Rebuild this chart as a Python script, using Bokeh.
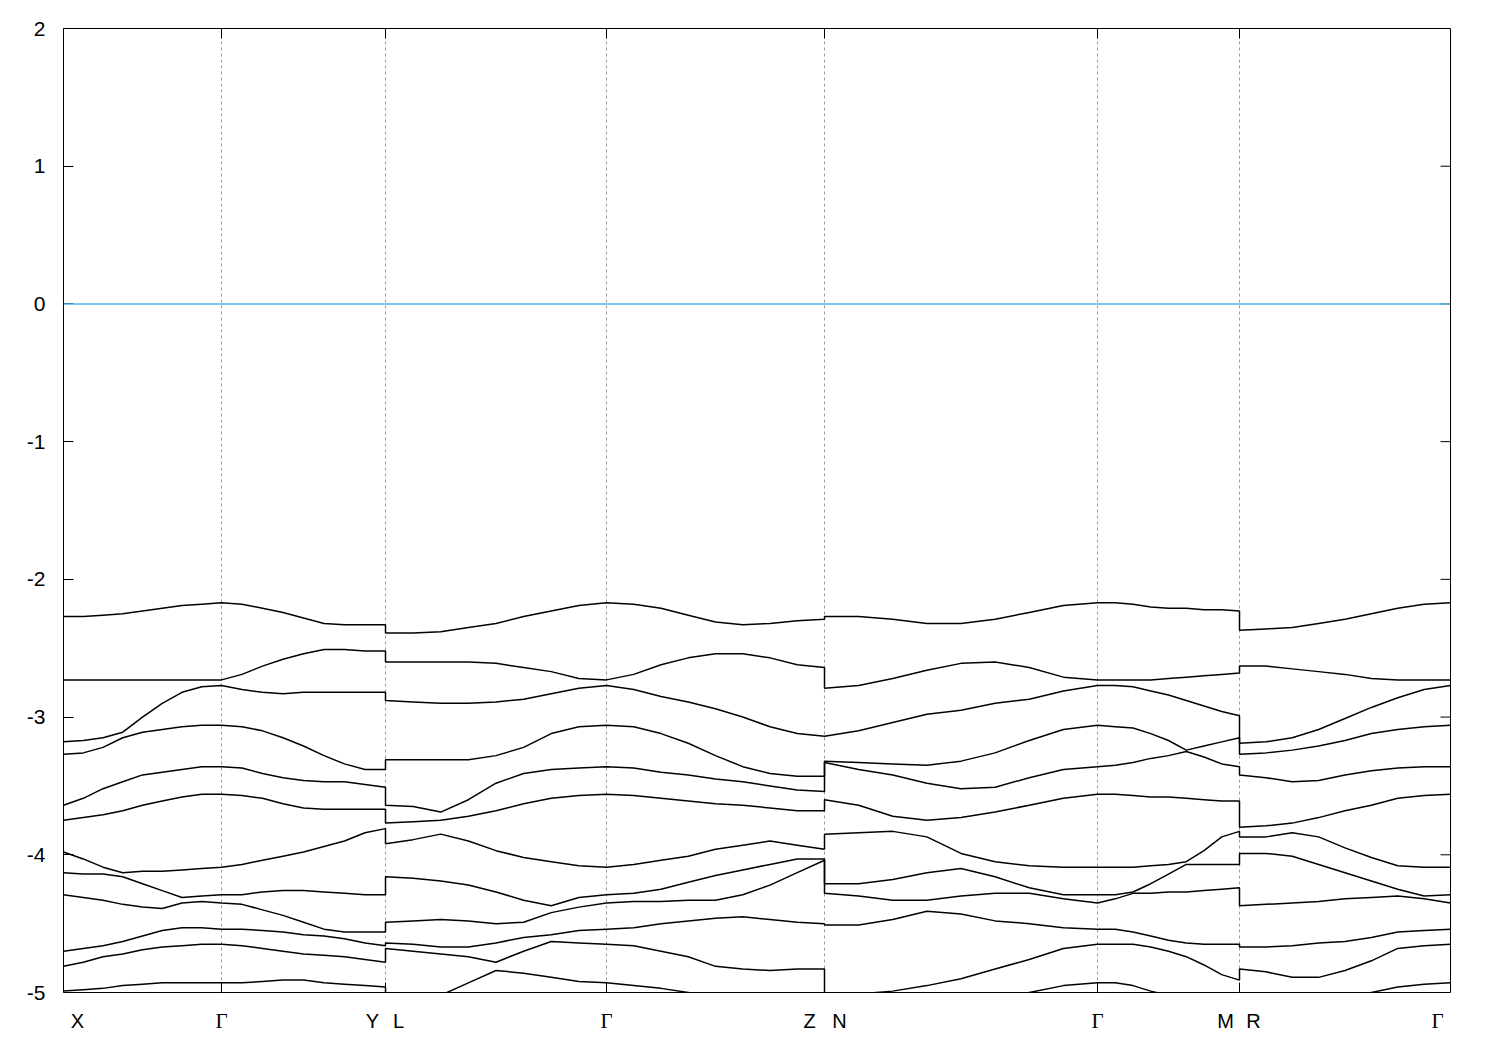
import numpy as np
from bokeh.plotting import figure
from bokeh.models import FixedTicker, Span, Range1d, LinearAxis
from bokeh.embed import file_html
from bokeh.resources import INLINE

# ---- k-path: positions of the high-symmetry points (path distance, arbitrary units)
kpath_pos = [0, 158, 322, 543, 761, 1034, 1176, 1387]
# tick labels, the k-point they belong to, and their small horizontal nudge
tick_text = ["X", "Γ", "Y", "L", "Γ", "Z", "N", "Γ", "M", "R", "Γ"]
tick_at = [0, 1, 2, 2, 3, 4, 4, 5, 6, 6, 7]
tick_nudge = [14, 0, -13, 13, 0, -15, 15, 0, -14, 14, -13]

y_ticks = [-5, -4, -3, -2, -1, 0, 1, 2]
fermi_level = 0.0

# ---- band energies (eV), 12 bands, 9 samples per segment
seg_X_G = [
    [-2.27, -2.27, -2.26, -2.25, -2.23, -2.21, -2.19, -2.18, -2.17],
    [-2.73, -2.73, -2.73, -2.73, -2.73, -2.73, -2.73, -2.73, -2.73],
    [-3.18, -3.17, -3.15, -3.11, -3.00, -2.90, -2.82, -2.78, -2.77],
    [-3.27, -3.26, -3.22, -3.15, -3.11, -3.09, -3.07, -3.06, -3.06],
    [-3.64, -3.59, -3.52, -3.47, -3.42, -3.40, -3.38, -3.36, -3.36],
    [-3.75, -3.73, -3.71, -3.68, -3.64, -3.61, -3.58, -3.56, -3.56],
    [-3.98, -4.03, -4.09, -4.13, -4.12, -4.12, -4.11, -4.10, -4.09],
    [-4.13, -4.14, -4.14, -4.16, -4.21, -4.26, -4.31, -4.30, -4.29],
    [-4.29, -4.31, -4.33, -4.36, -4.38, -4.39, -4.35, -4.34, -4.35],
    [-4.70, -4.68, -4.66, -4.63, -4.59, -4.55, -4.53, -4.53, -4.54],
    [-4.81, -4.78, -4.74, -4.72, -4.69, -4.67, -4.66, -4.65, -4.65],
    [-4.99, -4.98, -4.97, -4.95, -4.94, -4.93, -4.93, -4.93, -4.93],
]
seg_G_Y = [
    [-2.17, -2.18, -2.21, -2.24, -2.28, -2.32, -2.33, -2.33, -2.33],
    [-2.73, -2.69, -2.63, -2.58, -2.54, -2.51, -2.51, -2.52, -2.52],
    [-2.77, -2.80, -2.82, -2.83, -2.82, -2.82, -2.82, -2.82, -2.82],
    [-3.06, -3.07, -3.10, -3.15, -3.21, -3.28, -3.34, -3.38, -3.38],
    [-3.36, -3.37, -3.41, -3.44, -3.46, -3.47, -3.47, -3.49, -3.51],
    [-3.56, -3.57, -3.59, -3.63, -3.66, -3.67, -3.67, -3.67, -3.67],
    [-4.09, -4.07, -4.04, -4.01, -3.98, -3.94, -3.90, -3.84, -3.81],
    [-4.29, -4.29, -4.27, -4.26, -4.26, -4.27, -4.28, -4.29, -4.29],
    [-4.35, -4.36, -4.40, -4.44, -4.49, -4.54, -4.56, -4.56, -4.56],
    [-4.54, -4.54, -4.55, -4.56, -4.58, -4.59, -4.61, -4.64, -4.66],
    [-4.65, -4.66, -4.68, -4.70, -4.72, -4.73, -4.74, -4.76, -4.78],
    [-4.93, -4.93, -4.92, -4.91, -4.91, -4.93, -4.94, -4.95, -4.96],
]
seg_L_G = [
    [-2.39, -2.39, -2.38, -2.35, -2.32, -2.27, -2.23, -2.19, -2.17],
    [-2.60, -2.60, -2.60, -2.60, -2.61, -2.64, -2.67, -2.72, -2.73],
    [-2.88, -2.89, -2.90, -2.90, -2.89, -2.87, -2.83, -2.79, -2.77],
    [-3.31, -3.31, -3.31, -3.31, -3.28, -3.22, -3.12, -3.07, -3.06],
    [-3.64, -3.65, -3.69, -3.60, -3.48, -3.41, -3.38, -3.37, -3.36],
    [-3.77, -3.76, -3.75, -3.72, -3.68, -3.63, -3.59, -3.57, -3.56],
    [-3.92, -3.89, -3.85, -3.90, -3.97, -4.02, -4.05, -4.08, -4.09],
    [-4.16, -4.17, -4.19, -4.22, -4.27, -4.33, -4.37, -4.31, -4.29],
    [-4.49, -4.48, -4.47, -4.48, -4.50, -4.49, -4.42, -4.38, -4.35],
    [-4.64, -4.65, -4.67, -4.67, -4.64, -4.60, -4.58, -4.55, -4.54],
    [-4.68, -4.70, -4.72, -4.74, -4.78, -4.70, -4.63, -4.64, -4.65],
    [-5.05, -5.08, -5.02, -4.93, -4.84, -4.86, -4.89, -4.92, -4.93],
]
seg_G_Z = [
    [-2.17, -2.18, -2.21, -2.26, -2.31, -2.33, -2.32, -2.30, -2.29],
    [-2.73, -2.69, -2.62, -2.57, -2.54, -2.54, -2.57, -2.62, -2.64],
    [-2.77, -2.80, -2.85, -2.89, -2.94, -3.00, -3.07, -3.12, -3.14],
    [-3.06, -3.07, -3.12, -3.19, -3.28, -3.36, -3.41, -3.43, -3.43],
    [-3.36, -3.37, -3.40, -3.42, -3.45, -3.47, -3.50, -3.53, -3.54],
    [-3.56, -3.57, -3.59, -3.61, -3.63, -3.64, -3.66, -3.68, -3.68],
    [-4.09, -4.07, -4.04, -4.01, -3.96, -3.93, -3.90, -3.93, -3.96],
    [-4.29, -4.28, -4.25, -4.20, -4.15, -4.11, -4.07, -4.03, -4.03],
    [-4.35, -4.34, -4.34, -4.33, -4.33, -4.29, -4.22, -4.13, -4.04],
    [-4.54, -4.53, -4.50, -4.48, -4.46, -4.45, -4.47, -4.49, -4.50],
    [-4.65, -4.66, -4.70, -4.74, -4.81, -4.83, -4.84, -4.83, -4.83],
    [-4.93, -4.95, -4.97, -5.00, -5.05, -5.08, -5.10, -5.10, -5.10],
]
seg_N_G = [
    [-2.27, -2.27, -2.29, -2.32, -2.32, -2.29, -2.24, -2.19, -2.17],
    [-2.79, -2.77, -2.72, -2.66, -2.61, -2.60, -2.64, -2.71, -2.73],
    [-3.14, -3.10, -3.04, -2.98, -2.95, -2.90, -2.87, -2.81, -2.77],
    [-3.32, -3.33, -3.34, -3.35, -3.32, -3.26, -3.17, -3.09, -3.06],
    [-3.33, -3.38, -3.42, -3.48, -3.52, -3.51, -3.44, -3.38, -3.36],
    [-3.60, -3.64, -3.72, -3.75, -3.73, -3.69, -3.64, -3.59, -3.56],
    [-3.85, -3.84, -3.83, -3.87, -3.99, -4.05, -4.08, -4.09, -4.09],
    [-4.21, -4.21, -4.18, -4.13, -4.10, -4.16, -4.24, -4.29, -4.29],
    [-4.28, -4.30, -4.33, -4.33, -4.30, -4.28, -4.28, -4.32, -4.35],
    [-4.51, -4.51, -4.47, -4.41, -4.43, -4.48, -4.50, -4.53, -4.54],
    [-5.06, -5.01, -4.99, -4.95, -4.90, -4.83, -4.76, -4.68, -4.65],
    [-5.25, -5.22, -5.20, -5.15, -5.10, -5.06, -5.00, -4.95, -4.93],
]
seg_G_M = [
    [-2.17, -2.17, -2.18, -2.20, -2.21, -2.21, -2.22, -2.22, -2.23],
    [-2.73, -2.73, -2.73, -2.73, -2.72, -2.71, -2.70, -2.69, -2.68],
    [-2.77, -2.77, -2.78, -2.81, -2.84, -2.88, -2.92, -2.96, -2.99],
    [-3.06, -3.07, -3.08, -3.12, -3.17, -3.24, -3.21, -3.18, -3.15],
    [-3.36, -3.35, -3.33, -3.30, -3.28, -3.25, -3.29, -3.34, -3.36],
    [-3.56, -3.56, -3.57, -3.58, -3.58, -3.59, -3.60, -3.61, -3.61],
    [-4.09, -4.09, -4.09, -4.08, -4.07, -4.05, -3.97, -3.87, -3.83],
    [-4.29, -4.29, -4.27, -4.21, -4.14, -4.07, -4.07, -4.07, -4.07],
    [-4.35, -4.32, -4.28, -4.28, -4.27, -4.27, -4.26, -4.25, -4.24],
    [-4.54, -4.54, -4.56, -4.59, -4.62, -4.64, -4.65, -4.65, -4.65],
    [-4.65, -4.65, -4.65, -4.67, -4.70, -4.74, -4.80, -4.87, -4.91],
    [-4.93, -4.93, -4.95, -4.99, -5.02, -5.06, -5.08, -5.09, -5.10],
]
seg_R_G = [
    [-2.37, -2.36, -2.35, -2.32, -2.29, -2.25, -2.21, -2.18, -2.17],
    [-2.63, -2.63, -2.65, -2.67, -2.69, -2.72, -2.73, -2.73, -2.73],
    [-3.19, -3.18, -3.15, -3.09, -3.01, -2.93, -2.86, -2.80, -2.77],
    [-3.27, -3.26, -3.24, -3.21, -3.17, -3.12, -3.09, -3.07, -3.06],
    [-3.42, -3.44, -3.47, -3.46, -3.42, -3.39, -3.37, -3.36, -3.36],
    [-3.80, -3.79, -3.77, -3.73, -3.68, -3.64, -3.59, -3.57, -3.56],
    [-3.87, -3.87, -3.84, -3.87, -3.95, -4.02, -4.08, -4.09, -4.09],
    [-3.99, -3.99, -4.01, -4.07, -4.13, -4.19, -4.25, -4.30, -4.29],
    [-4.37, -4.36, -4.35, -4.34, -4.32, -4.31, -4.30, -4.32, -4.35],
    [-4.67, -4.67, -4.66, -4.64, -4.63, -4.60, -4.56, -4.55, -4.54],
    [-4.83, -4.85, -4.89, -4.89, -4.84, -4.77, -4.68, -4.66, -4.65],
    [-5.15, -5.12, -5.10, -5.07, -5.04, -5.00, -4.96, -4.94, -4.93],
]

segments = [seg_X_G, seg_G_Y, seg_L_G, seg_G_Z, seg_N_G, seg_G_M, seg_R_G]
n_bands = len(seg_X_G)

FW, FH = 1387, 964
XMIN, XMAX, YMIN, YMAX = kpath_pos[0], kpath_pos[-1], -5, 2
p = figure(frame_width=FW, frame_height=FH,
           x_range=Range1d(XMIN, XMAX), y_range=Range1d(YMIN, YMAX),
           output_backend="svg", toolbar_location=None,
           min_border_left=63, min_border_top=28, min_border_right=30,
           min_border_bottom=50)
p.background_fill_color = "white"
p.border_fill_color = "white"
p.outline_line_color = "black"
p.outline_line_width = 1
p.outline_line_alpha = 1

# grid: dashed verticals at high-symmetry points only
p.ygrid.visible = False
p.xgrid.ticker = FixedTicker(ticks=kpath_pos[1:-1])
p.xgrid.grid_line_color = "#9a9a9a"
p.xgrid.grid_line_dash = "3 3"
p.xgrid.grid_line_width = 1

# left axis: inward ticks + labels
yax = p.yaxis[0]
yax.ticker = FixedTicker(ticks=y_ticks)
yax.major_label_overrides = {t: str(t) for t in y_ticks}
yax.axis_line_color = None
yax.major_tick_in = 10
yax.major_tick_out = 0
yax.major_tick_line_color = "black"
yax.minor_tick_line_color = None
yax.major_label_text_font = "Liberation Sans"
yax.major_label_text_font_size = "21px"
yax.major_label_text_color = "black"
yax.major_label_standoff = 18

def label_axis(ax, names, positions, font, size, standoff):
    ax.ticker = FixedTicker(ticks=positions)
    ax.major_label_overrides = {lp: t for lp, t in zip(positions, names)}
    ax.axis_line_color = None
    ax.major_tick_line_color = None
    ax.minor_tick_line_color = None
    ax.major_tick_in = 0
    ax.major_tick_out = 0
    ax.major_label_text_font = font
    ax.major_label_text_font_size = size
    ax.major_label_text_color = "black"
    ax.major_label_standoff = standoff

label_pos = [kpath_pos[i] + d for i, d in zip(tick_at, tick_nudge)]
latin = [(t, lp) for t, lp in zip(tick_text, label_pos) if t != "Γ"]
greek = [(t, lp) for t, lp in zip(tick_text, label_pos) if t == "Γ"]

# bottom axis: Latin k-point names (sans)
label_axis(p.xaxis[0], [t for t, _ in latin], [lp for _, lp in latin],
           "Liberation Sans", "20px", 17)
# second bottom axis pulled up onto the same row: Γ names (serif)
gax = LinearAxis()
label_axis(gax, [t for t, _ in greek], [lp for _, lp in greek],
           "Liberation Serif", "21px", -26)
p.add_layout(gax, "below")

# inward tick marks at k-points (bottom, top) and mirrored y ticks (right)
tlx = 10 * (XMAX - XMIN) / FW
tly = 10 * (YMAX - YMIN) / FH
kin = kpath_pos[1:-1]
p.segment(x0=kin, y0=[YMIN] * len(kin), x1=kin, y1=[YMIN + tly] * len(kin),
          line_color="black", line_width=1)
p.segment(x0=kin, y0=[YMAX] * len(kin), x1=kin, y1=[YMAX - tly] * len(kin),
          line_color="black", line_width=1)
p.segment(x0=[XMAX] * len(y_ticks), y0=y_ticks, x1=[XMAX - tlx] * len(y_ticks),
          y1=y_ticks, line_color="black", line_width=1)

# Fermi level
p.add_layout(Span(location=fermi_level, dimension="width",
                  line_color="#56B4E9", line_width=1.5))

# bands
for b in range(n_bands):
    xs, ys = [], []
    for s, seg in enumerate(segments):
        vals = seg[b]
        kx = np.linspace(kpath_pos[s], kpath_pos[s + 1], len(vals))
        xs.extend(kx.tolist())
        ys.extend(vals)
    p.line(xs, ys, line_color="black", line_width=1.5)

open("out.html", "w").write(file_html(p, INLINE))
